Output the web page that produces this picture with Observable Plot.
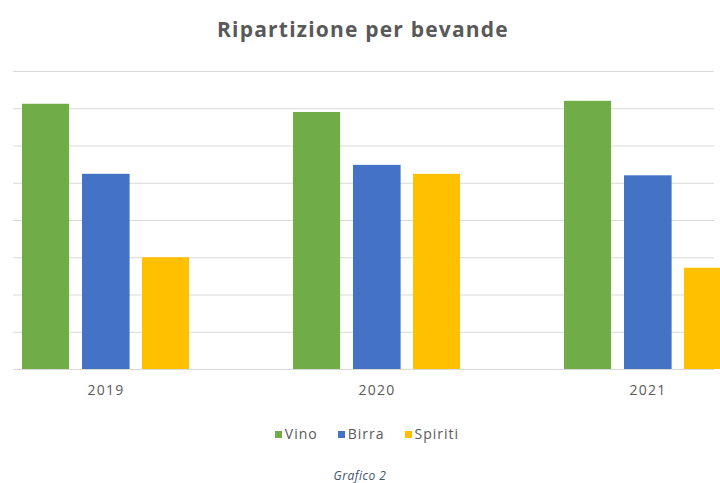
<!DOCTYPE html>
<html>
<head>
<meta charset="utf-8">
<script src="https://cdn.jsdelivr.net/npm/d3@7"></script>
<script src="https://cdn.jsdelivr.net/npm/@observablehq/plot@0.6"></script>
<style>
  html, body { margin: 0; padding: 0; background: #ffffff; }
  #wrap { width: 720px; height: 483px; position: relative; overflow: hidden; font-family: "Open Sans", sans-serif; }
  #title { height: 60px; line-height: 58px; text-align: center; font-size: 21px; font-weight: bold; color: #595959; padding-left: 6px; letter-spacing: 1.2px; }
  #chart svg { display: block; }
  #legend { height: 50px; line-height: 50px; text-align: center; font-size: 14px; color: #595959; padding-left: 14px; letter-spacing: 1px; }
  #legend span.item { margin: 0 10px; }
  #legend span.sw { display: inline-block; width: 7px; height: 7px; margin-right: 3px; vertical-align: 1px; }
  #caption { height: 32px; line-height: 34px; text-align: center; font-size: 12px; font-style: italic; color: #44546A; letter-spacing: 0.5px; }
</style>
</head>
<body>
<div id="wrap">
  <div id="title">Ripartizione per bevande</div>
  <div id="chart"></div>
  <div id="legend"></div>
  <div id="caption">Grafico 2</div>
</div>
<script>
const years = ["2019", "2020", "2021"];
const series = ["Vino", "Birra", "Spiriti"];
const colors = ["#70AD47", "#4472C4", "#FFC000"];
const vino = [35.6, 34.5, 36.0];
const birra = [26.2, 27.4, 26.0];
const spiriti = [15.0, 26.2, 13.6];
const gridTicks = [0, 5, 10, 15, 20, 25, 30, 35, 40];

const values = {Vino: vino, Birra: birra, Spiriti: spiriti};
const data = series.flatMap(s => years.map((y, i) => ({year: y, drink: s, value: values[s][i]})));

// placement of each series inside its year band
const insets = {
  Vino: {insetLeft: 0, insetRight: 119.9},
  Birra: {insetLeft: 60, insetRight: 59.4},
  Spiriti: {insetLeft: 120, insetRight: 0}
};

const chart = Plot.plot({
  width: 720,
  height: 349,
  marginTop: 11,
  marginBottom: 40,
  marginLeft: 13,
  marginRight: 6,
  style: {fontFamily: "Open Sans, sans-serif", fontSize: "14px", color: "#595959", background: "white", letterSpacing: "1.2px"},
  x: {domain: years, range: [13, 740.6], paddingInner: 0.383, paddingOuter: 0.032, tickSize: 0, tickPadding: 16, label: null},
  y: {domain: [0, 40], axis: null},
  marks: [
    Plot.ruleY(gridTicks, {stroke: "#d9d9d9", strokeWidth: 1}),
    ...series.map((s, k) => Plot.barY(data.filter(d => d.drink === s), {
      x: "year", y: "value", fill: colors[k], ...insets[s]
    }))
  ]
});
document.getElementById("chart").appendChild(chart);

const legend = document.getElementById("legend");
series.forEach((s, k) => {
  const item = document.createElement("span");
  item.className = "item";
  const sw = document.createElement("span");
  sw.className = "sw";
  sw.style.background = colors[k];
  item.appendChild(sw);
  item.appendChild(document.createTextNode(s));
  legend.appendChild(item);
});
</script>
</body>
</html>
